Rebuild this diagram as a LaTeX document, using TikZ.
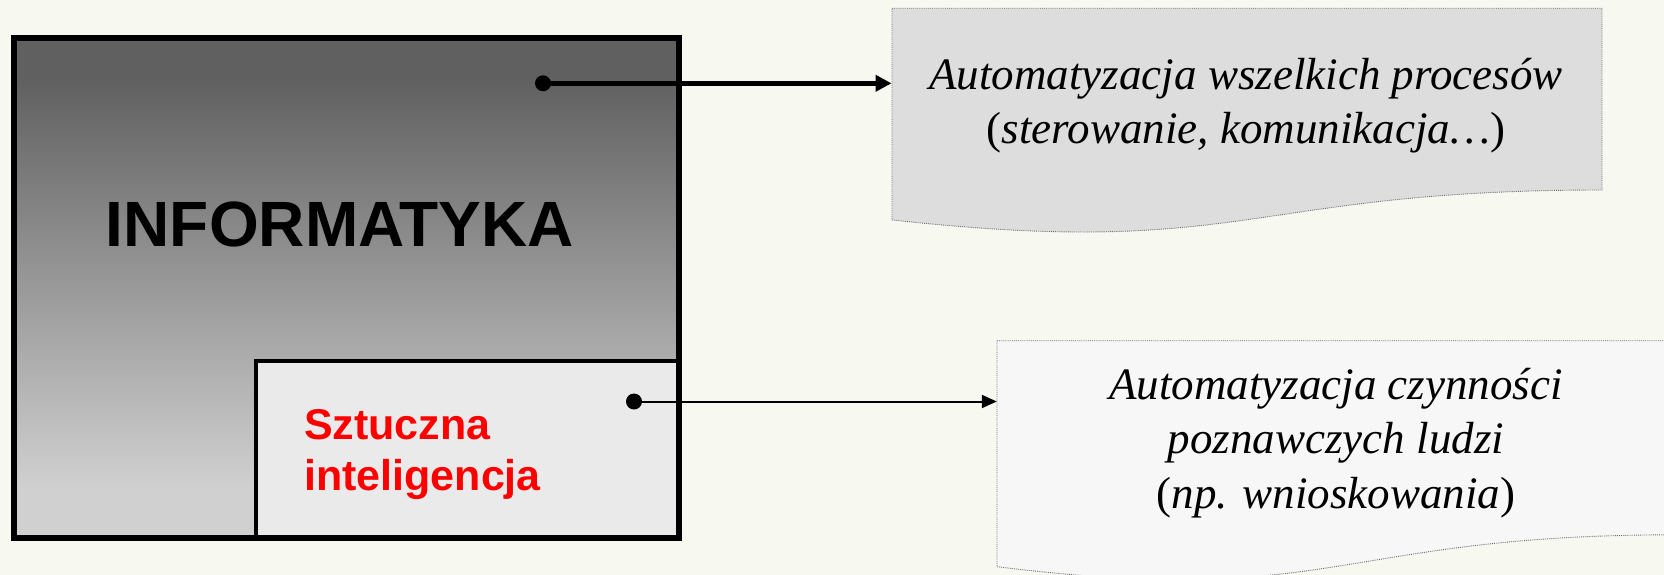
\documentclass[tikz,border=0pt]{standalone}
\usepackage{fontspec}
\setmainfont{Liberation Serif}
\newfontfamily\arialbold{Liberation Sans}[UprightFont=* Bold]
\usetikzlibrary{arrows.meta}
\definecolor{bgc}{HTML}{F7F8F0}
\definecolor{boxa}{HTML}{DDDDDD}
\definecolor{boxb}{HTML}{F7F7F7}
\definecolor{aibox}{HTML}{EAEAEA}
\definecolor{gtop}{HTML}{606060}
\definecolor{gbot}{HTML}{D0D0D0}
\definecolor{dotline}{HTML}{707070}
\pgfdeclareverticalshading{infoshade}{100bp}{color(0bp)=(gbot); color(30bp)=(gbot); color(71bp)=(gtop); color(100bp)=(gtop)}
\tikzset{
  callout/.style={draw=dotline, densely dotted, line width=0.9pt},
  dotnode/.style={circle, fill=black, inner sep=0pt, minimum size=16pt},
  calltext/.style={anchor=base, inner sep=0pt, font=\fontsize{45}{54}\selectfont},
  aitext/.style={anchor=base west, inner sep=0pt, text=red, font=\arialbold\fontsize{43}{50}\selectfont},
}
\begin{document}
\begin{tikzpicture}[x=1pt,y=-1pt]
\useasboundingbox (0,0) rectangle (1664,575);
\fill[bgc] (0,0) rectangle (1664,575);
\clip (0,0) rectangle (1664,575);
% outer box with gradient
\shade[shading=infoshade] (14,38) rectangle (679,537.5);
% inner AI box
\draw[fill=aibox, line width=4pt] (256,360.5) rectangle (679,537.5);
\draw[line width=6pt] (14,38) rectangle (679,537.5);
\node[anchor=base, inner sep=0pt, font=\arialbold\fontsize{64}{70}\selectfont] (inf) at (340,246) {INFORMATYKA};
\node[aitext] (ai1) at (304,439.3) {Sztuczna};
\node[aitext] (ai2) at (304,490) {inteligencja};
% callout boxes
\filldraw[callout, fill=boxa] (892,8.3) -- (1602,8.3) -- (1602,190.0)
   .. controls (1247,190.0) and (1247,259.3) .. (892,219.9) -- cycle;
\filldraw[callout, fill=boxb] (997,340.7) -- (1675,340.7) -- (1675,534.8)
   .. controls (1336,534.8) and (1336,608.7) .. (997,566.7) -- cycle;
\node[calltext] (t1a) at (1246,89.3) {\itshape Automatyzacja wszelkich procesów};
\node[calltext] (t1b) at (1246,143.3) {(\textit{sterowanie, komunikacja…})};
\node[calltext] (t2a) at (1336,399) {\itshape Automatyzacja czynności};
\node[calltext] (t2b) at (1336,453.5) {\itshape poznawczych ludzi};
\node[calltext] (t2c) at (1336,508.3) {(\textit{np. wnioskowania})};
% connectors
\node[dotnode] (d1) at (543,83.3) {};
\node[dotnode] (d2) at (634,401.5) {};
\coordinate (b1) at (891.5,83.3);
\coordinate (b2) at (996.8,401.5);
\draw[line width=4.5pt, -{Triangle[length=16pt,width=16pt]}] (d1.center) -- (b1);
\draw[line width=2pt, -{Triangle[length=15pt,width=13pt]}] (d2.center) -- (b2);
\end{tikzpicture}
\end{document}
